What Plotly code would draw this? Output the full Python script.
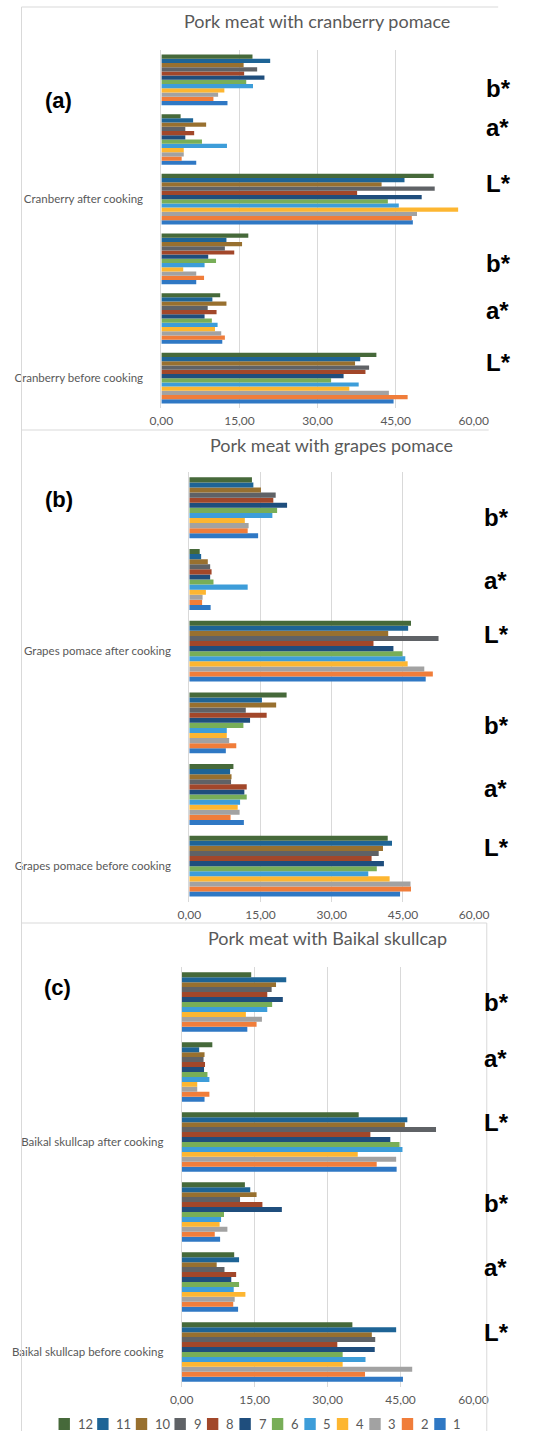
import plotly.graph_objects as go

W, H = 535, 1431

# ---------------- data (series 1..12) ----------------
series_names = ["1", "2", "3", "4", "5", "6", "7", "8", "9", "10", "11", "12"]
colors = ["#2F78C4", "#F07D3A", "#A2A2A2", "#FDB631", "#3D9DD9", "#78AE58",
          "#1F4E7D", "#A2472A", "#5F6266", "#98702F", "#1E6496", "#46693A"]

tick_vals = [0, 15, 30, 45, 60]
param_labels = ["b*", "a*", "L*", "b*", "a*", "L*"]   # top to bottom on the right

# Panel (a) cranberry pomace
cran_L_before = [44.6, 47.3, 43.7, 36.1, 37.9, 32.6, 35.0, 39.2, 39.9, 37.2, 38.2, 41.3]
cran_a_before = [11.7, 12.2, 11.5, 10.3, 10.8, 9.7, 8.3, 10.6, 8.9, 12.5, 9.8, 11.3]
cran_b_before = [6.7, 8.2, 6.7, 4.2, 8.3, 10.5, 9.0, 14.0, 12.2, 15.5, 12.5, 16.7]
cran_L_after = [48.3, 48.1, 49.1, 57.0, 45.6, 43.5, 50.0, 37.6, 52.5, 42.3, 46.7, 52.3]
cran_a_after = [6.7, 3.9, 4.3, 4.3, 12.6, 7.8, 4.6, 6.3, 4.6, 8.6, 6.1, 3.7]
cran_b_after = [12.7, 10.0, 10.9, 12.1, 17.6, 16.3, 19.8, 15.9, 18.4, 15.8, 20.9, 17.5]

# Panel (b) grapes pomace
grape_L_before = [44.4, 46.7, 46.6, 42.2, 37.7, 39.5, 41.0, 38.4, 39.9, 40.8, 42.7, 41.8]
grape_a_before = [11.5, 8.7, 10.6, 10.2, 10.7, 12.1, 11.6, 12.1, 8.8, 8.9, 8.6, 9.3]
grape_b_before = [7.7, 9.9, 8.4, 7.9, 7.9, 11.4, 12.8, 16.3, 11.9, 18.3, 15.3, 20.5]
grape_L_after = [49.8, 51.3, 49.5, 46.0, 45.5, 44.9, 43.0, 38.8, 52.5, 41.9, 46.1, 46.7]
grape_a_after = [4.5, 2.7, 2.8, 3.5, 12.3, 5.1, 4.4, 4.7, 4.4, 3.9, 2.5, 2.2]
grape_b_after = [14.5, 12.3, 12.5, 11.7, 17.5, 18.5, 20.6, 17.7, 18.2, 15.1, 13.5, 13.2]

# Panel (c) Baikal skullcap
baik_L_before = [45.5, 37.7, 47.4, 33.1, 37.8, 33.1, 39.7, 32.0, 39.8, 39.1, 44.1, 35.1]
baik_a_before = [11.6, 10.6, 10.9, 13.1, 10.7, 11.8, 10.2, 11.2, 8.8, 7.2, 11.8, 10.8]
baik_b_before = [7.9, 6.8, 9.4, 7.8, 8.1, 8.7, 20.6, 16.6, 12.0, 15.4, 14.1, 13.0]
baik_L_after = [44.2, 40.1, 44.1, 36.2, 45.4, 44.8, 42.9, 38.8, 52.3, 45.9, 46.4, 36.4]
baik_a_after = [4.7, 5.7, 3.2, 3.2, 5.7, 5.3, 4.6, 4.8, 4.5, 4.7, 3.6, 6.3]
baik_b_after = [13.5, 15.4, 16.5, 13.2, 17.6, 18.6, 20.8, 17.6, 18.5, 19.4, 21.5, 14.3]

categories = ["L* before", "a* before", "b* before", "L* after", "a* after", "b* after"]

panels = [
    dict(title="Pork meat with cranberry pomace", tag="(a)",
         before="Cranberry before cooking", after="Cranberry after cooking",
         data=[cran_L_before, cran_a_before, cran_b_before, cran_L_after, cran_a_after, cran_b_after],
         x0=157.3, x1=486.3, ytop=50, ybot=408, title_xy=(321.5, 21), tag_xy=(49, 100),
         lab_x=497, lab_y=[88, 128, 183, 263, 310, 362]),
    dict(title="Pork meat with grapes pomace", tag="(b)",
         before="Grapes pomace before cooking", after="Grapes pomace after cooking",
         data=[grape_L_before, grape_a_before, grape_b_before, grape_L_after, grape_a_after, grape_b_after],
         x0=186.7, x1=486.7, ytop=472, ybot=902, title_xy=(336, 445), tag_xy=(49, 500),
         lab_x=495, lab_y=[518, 580, 635, 725, 788, 847]),
    dict(title="Pork meat with Baikal skullcap", tag="(c)",
         before="Baikal skullcap before cooking", after="Baikal skullcap after cooking",
         data=[baik_L_before, baik_a_before, baik_b_before, baik_L_after, baik_a_after, baik_b_after],
         x0=178.7, x1=486.0, ytop=967, ybot=1387, title_xy=(332, 938), tag_xy=(48, 987),
         lab_x=495, lab_y=[1002, 1058, 1122, 1203, 1267, 1332]),
]


def px(x):
    return x / W


def py(y):
    return 1 - y / H


GRID = "#D9D9D9"
TXT = "#595959"
FONT = "Lato"

fig = go.Figure()
layout_axes = {}
annotations = []
shapes = []

for p, pan in enumerate(panels):
    sfx = "" if p == 0 else str(p + 1)
    for s in range(12):
        fig.add_trace(go.Bar(
            orientation="h",
            y=categories,
            x=[pan["data"][c][s] for c in range(6)],
            name=series_names[s],
            marker=dict(color=colors[s], line=dict(width=0)),
            xaxis="x" + sfx, yaxis="y" + sfx,
            showlegend=False,
        ))
    layout_axes["xaxis" + sfx] = dict(
        domain=[px(pan["x0"]), px(pan["x1"])], anchor="y" + sfx,
        range=[0, 60], tickvals=tick_vals, tickformat=".2f",
        showgrid=True, gridcolor=GRID, gridwidth=1, zeroline=False,
        showline=False, ticks="", ticklabelstandoff=4,
        tickfont=dict(family=FONT, size=12, color=TXT), fixedrange=True,
    )
    layout_axes["yaxis" + sfx] = dict(
        domain=[py(pan["ybot"]), py(pan["ytop"])], anchor="x" + sfx,
        type="category", categoryorder="array", categoryarray=categories,
        range=[-0.5, 5.5],
        tickvals=[categories[0], categories[3]], ticktext=[pan["before"], pan["after"]],
        showgrid=False, zeroline=False, showline=True, linecolor=GRID, linewidth=1,
        ticks="", ticklabelstandoff=15,
        tickfont=dict(family=FONT, size=11.5, color=TXT), fixedrange=True,
    )
    # chart title
    annotations.append(dict(text=pan["title"], x=px(pan["title_xy"][0]), y=py(pan["title_xy"][1]),
                            xref="paper", yref="paper", showarrow=False, xanchor="center", yanchor="middle",
                            font=dict(family=FONT, size=18, color=TXT)))
    # panel tag
    annotations.append(dict(text="<b>" + pan["tag"] + "</b>", x=px(pan["tag_xy"][0]), y=py(pan["tag_xy"][1]),
                            xref="paper", yref="paper", showarrow=False, xanchor="center", yanchor="middle",
                            font=dict(family="Liberation Sans", size=22, color="black")))
    # L*/a*/b* labels
    for lab, yy in zip(param_labels, pan["lab_y"]):
        annotations.append(dict(text="<b>" + lab + "</b>", x=px(pan["lab_x"]), y=py(yy),
                                xref="paper", yref="paper", showarrow=False, xanchor="left", yanchor="middle",
                                font=dict(family="Liberation Sans", size=24, color="black")))


# panel frames
def hline(x0, x1, y):
    shapes.append(dict(type="line", xref="paper", yref="paper", x0=px(x0), x1=px(x1), y0=py(y), y1=py(y),
                       line=dict(color=GRID, width=1)))


def vline(x, y0, y1):
    shapes.append(dict(type="line", xref="paper", yref="paper", x0=px(x), x1=px(x), y0=py(y0), y1=py(y1),
                       line=dict(color=GRID, width=1)))


hline(10, 512, 7)
vline(10, 7, 1431)
hline(10, 502, 430)
hline(10, 500, 923)
vline(500, 923, 1431)

# manual legend (12 .. 1), single row
xcur = 49.0
for s in range(11, -1, -1):
    lab = series_names[s]
    shapes.append(dict(type="rect", xref="paper", yref="paper",
                       x0=px(xcur), x1=px(xcur + 12), y0=py(1430), y1=py(1418),
                       fillcolor=colors[s], line=dict(width=0)))
    annotations.append(dict(text=lab, x=px(xcur + 18), y=py(1424), xref="paper", yref="paper",
                            showarrow=False, xanchor="left", yanchor="middle",
                            font=dict(family=FONT, size=13, color=TXT)))
    xcur += 27.7 + 6.5 * len(lab)

fig.update_layout(
    width=W, height=H, autosize=False,
    margin=dict(l=0, r=0, t=0, b=0),
    paper_bgcolor="white", plot_bgcolor="white",
    barmode="group", bargap=0.15, bargroupgap=0,
    separators=",.",
    showlegend=False,
    annotations=annotations, shapes=shapes,
    **layout_axes,
)

fig.write_html("out.html",
               config={"displayModeBar": False},
               post_script="document.body.style.margin='0';document.body.style.padding='0';"
                           "document.body.style.overflow='hidden';")
